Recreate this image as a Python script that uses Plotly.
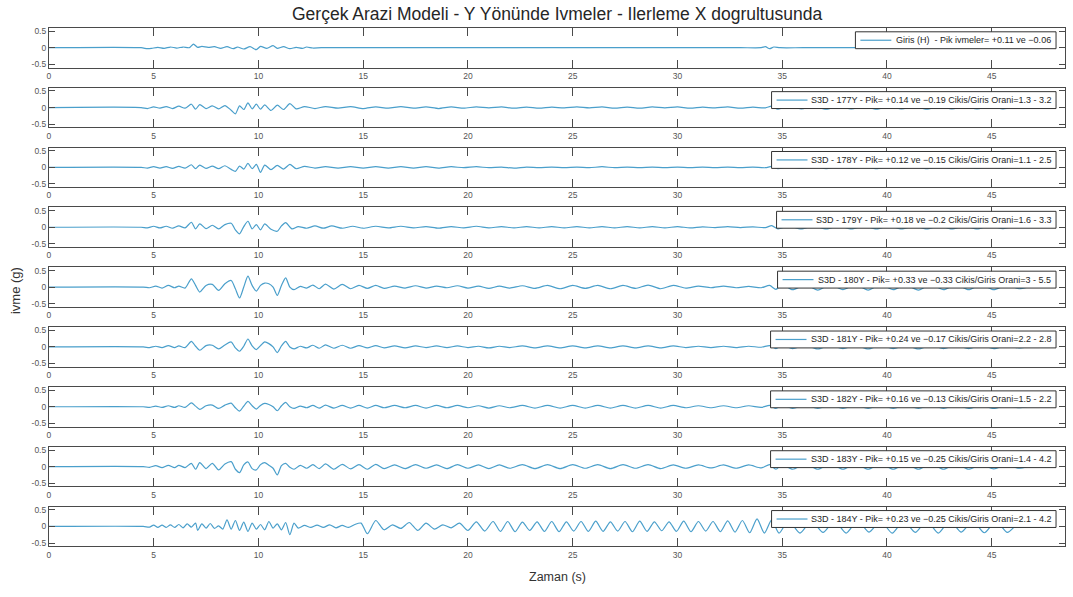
import plotly.graph_objects as go

# Acceleration records (time s, acceleration g) for the input motion and each station.
GIRIS_H = [(0, 0), (4.4, 0), (4.7, -0.03), (4.9, -0.02), (5.2, 0.01), (5.5, -0.02), (5.8, 0.02),
           (6.1, -0.01), (6.4, 0.02), (6.7, 0.0), (6.9, 0.11), (7.1, 0.01), (7.3, 0.04), (7.6, 0.01),
           (7.9, 0.03), (8.2, -0.02), (8.5, 0.03), (8.8, -0.03), (9.0, 0.02), (9.3, -0.04), (9.6, 0.03),
           (9.9, -0.06), (10.1, 0.04), (10.4, -0.02), (10.7, 0.06), (10.9, -0.02), (11.2, 0.03),
           (11.5, -0.03), (11.8, 0.01), (12.1, -0.02), (12.3, 0.02), (12.6, -0.01), (13.0, 0.0),
           (15.0, 0.0), (20.0, 0.0), (25.0, 0.0), (30.0, 0.0), (33.0, 0.0),
           (34.0, 0.0), (34.2, 0.03), (34.4, -0.03), (34.6, 0.02), (34.9, 0.0), (36.0, 0.0),
           (40.0, 0.0), (46.7, 0.0)]

S177Y = [(0, 0), (4.4, 0), (4.7, -0.03), (5.0, 0.02), (5.3, -0.02), (5.6, 0.03), (5.9, -0.03), (6.2, 0.04),
         (6.5, -0.02), (6.8, 0.1), (7.0, -0.05), (7.2, 0.09), (7.5, -0.03), (7.8, 0.05), (8.1, -0.04),
         (8.4, 0.06), (8.7, -0.08), (8.9, -0.19), (9.1, 0.05), (9.3, -0.06), (9.5, 0.14), (9.7, -0.04),
         (9.9, 0.1), (10.1, -0.05), (10.3, 0.08), (10.6, -0.09), (10.9, 0.07), (11.2, -0.06), (11.5, 0.12),
         (11.8, -0.04), (12.2, 0.03), (12.7, -0.03), (13.2, 0.03), (13.8, -0.02), (14.4, 0.03),
         (15.0, -0.03), (15.6, 0.02), (16.2, -0.02), (16.8, 0.03), (17.4, -0.02), (18.0, 0.02),
         (18.6, -0.03), (19.2, 0.02), (19.8, -0.02), (20.4, 0.02), (21.0, -0.01), (21.6, 0.02),
         (22.2, -0.02), (22.8, 0.01), (23.4, -0.02), (24.0, 0.01), (24.6, -0.01), (25.2, 0.02),
         (25.8, -0.01), (26.4, 0.02), (27.0, -0.02), (27.6, 0.01), (28.2, -0.02), (28.8, 0.02),
         (29.4, -0.01), (30.0, 0.02), (30.6, -0.02), (31.2, 0.01), (31.8, -0.01), (32.4, 0.02),
         (33.0, -0.02), (33.6, 0.01), (34.2, -0.01), (34.5, 0.04), (34.8, -0.05), (35.3, 0.04),
         (35.9, -0.04), (36.5, 0.03), (37.1, -0.05), (37.7, 0.03), (38.3, -0.04), (38.9, 0.03),
         (39.5, -0.05), (40.1, 0.03), (40.7, -0.04), (41.3, 0.03), (41.9, -0.05), (42.5, 0.03),
         (43.1, -0.04), (43.7, 0.03), (44.3, -0.04), (44.9, 0.03), (45.5, -0.04), (46.1, 0.02), (46.7, 0.0)]

S178Y = [(0, 0), (4.4, 0), (4.7, -0.02), (5.0, 0.02), (5.3, -0.02), (5.6, 0.02), (5.9, -0.03), (6.2, 0.03),
         (6.5, -0.02), (6.8, 0.08), (7.0, -0.04), (7.2, 0.07), (7.5, -0.03), (7.8, 0.04), (8.1, -0.04),
         (8.4, 0.05), (8.7, -0.06), (8.9, -0.12), (9.1, 0.04), (9.3, -0.05), (9.5, 0.12), (9.7, -0.04),
         (9.9, 0.09), (10.1, -0.15), (10.3, 0.07), (10.6, -0.07), (10.9, 0.06), (11.2, -0.05), (11.5, 0.09),
         (11.8, -0.04), (12.2, 0.03), (12.7, -0.02), (13.2, 0.02), (13.8, -0.02), (14.4, 0.02),
         (15.0, -0.02), (15.6, 0.02), (16.2, -0.02), (16.8, 0.02), (17.4, -0.02), (18.0, 0.02),
         (18.6, -0.02), (19.2, 0.02), (19.8, -0.01), (20.4, 0.02), (21.0, -0.01), (21.6, 0.01),
         (22.2, -0.02), (22.8, 0.01), (23.4, -0.01), (24.0, 0.01), (24.6, -0.01), (25.2, 0.01),
         (25.8, -0.01), (26.4, 0.02), (27.0, -0.01), (27.6, 0.01), (28.2, -0.01), (28.8, 0.01),
         (29.4, -0.01), (30.0, 0.01), (30.6, -0.01), (31.2, 0.01), (31.8, -0.01), (32.4, 0.01),
         (33.0, -0.01), (33.6, 0.01), (34.2, -0.01), (34.5, 0.03), (34.8, -0.04), (35.3, 0.03),
         (35.9, -0.03), (36.5, 0.03), (37.1, -0.04), (37.7, 0.03), (38.3, -0.03), (38.9, 0.02),
         (39.5, -0.04), (40.1, 0.03), (40.7, -0.03), (41.3, 0.02), (41.9, -0.04), (42.5, 0.03),
         (43.1, -0.03), (43.7, 0.02), (44.3, -0.03), (44.9, 0.02), (45.5, -0.03), (46.1, 0.02), (46.7, 0.0)]

S179Y = [(0, 0), (4.4, 0), (4.7, -0.02), (5.0, 0.03), (5.3, -0.02), (5.6, 0.03), (5.9, -0.03), (6.2, 0.04),
         (6.5, -0.02), (6.8, 0.15), (7.0, -0.05), (7.2, 0.1), (7.5, -0.04), (7.8, 0.06), (8.1, -0.05),
         (8.4, 0.08), (8.7, 0.12), (8.9, -0.08), (9.1, -0.2), (9.3, 0.02), (9.5, 0.18), (9.7, -0.05),
         (9.9, 0.08), (10.1, -0.08), (10.3, 0.1), (10.6, -0.06), (10.9, -0.12), (11.1, 0.04), (11.3, 0.14),
         (11.6, -0.05), (11.9, 0.02), (12.3, -0.03), (12.7, 0.04), (13.1, -0.03), (13.5, 0.04),
         (14.0, -0.03), (14.5, 0.03), (15.0, -0.03), (15.6, 0.03), (16.2, -0.02), (16.8, 0.03),
         (17.4, -0.02), (18.0, 0.02), (18.6, -0.03), (19.2, 0.02), (19.8, -0.02), (20.4, 0.03),
         (21.0, -0.02), (21.6, 0.02), (22.2, -0.02), (22.8, 0.02), (23.4, -0.02), (24.0, 0.02),
         (24.6, -0.02), (25.2, 0.02), (25.8, -0.02), (26.4, 0.02), (27.0, -0.02), (27.6, 0.02),
         (28.2, -0.02), (28.8, 0.02), (29.4, -0.02), (30.0, 0.02), (30.6, -0.02), (31.2, 0.01),
         (31.8, -0.01), (32.4, 0.02), (33.0, -0.01), (33.6, 0.01), (34.2, -0.01), (34.5, 0.05),
         (34.8, -0.05), (35.3, 0.04), (35.9, -0.05), (36.5, 0.04), (37.1, -0.05), (37.7, 0.04),
         (38.3, -0.05), (38.9, 0.04), (39.5, -0.05), (40.1, 0.04), (40.7, -0.05), (41.3, 0.04),
         (41.9, -0.05), (42.5, 0.04), (43.1, -0.05), (43.7, 0.04), (44.3, -0.05), (44.9, 0.04),
         (45.5, -0.04), (46.1, 0.03), (46.7, 0.0)]

S180Y = [(0, 0), (4.5, 0), (4.8, -0.02), (5.1, 0.03), (5.4, -0.03), (5.7, 0.05), (6.0, -0.02), (6.2, 0.03),
         (6.5, -0.03), (6.8, 0.25), (7.0, 0.05), (7.2, -0.15), (7.5, 0.05), (7.8, 0.08), (8.1, -0.1),
         (8.4, 0.1), (8.7, 0.2), (8.9, -0.05), (9.1, -0.33), (9.3, 0.0), (9.5, 0.33), (9.7, 0.05),
         (9.9, -0.12), (10.1, 0.05), (10.3, 0.12), (10.5, 0.1), (10.7, 0.0), (10.9, -0.25), (11.1, 0.05),
         (11.3, 0.28), (11.5, 0.0), (11.7, -0.08), (12.0, 0.02), (12.3, -0.03), (12.6, 0.06),
         (12.9, -0.05), (13.2, 0.09), (13.6, -0.06), (14.0, 0.08), (14.4, -0.05), (14.8, 0.05),
         (15.2, -0.04), (15.6, 0.05), (16.0, -0.04), (16.5, 0.03), (17.0, -0.03), (17.5, 0.04),
         (18.0, -0.03), (18.5, 0.03), (19.0, -0.02), (19.5, 0.04), (20.0, -0.03), (20.5, 0.03),
         (21.0, -0.04), (21.5, 0.03), (22.0, -0.03), (22.6, 0.04), (23.2, -0.04), (23.8, 0.05),
         (24.4, -0.05), (25.0, 0.05), (25.6, -0.04), (26.2, 0.05), (26.8, -0.05), (27.4, 0.05),
         (28.0, -0.04), (28.6, 0.06), (29.2, -0.05), (29.8, 0.05), (30.4, -0.03), (31.0, 0.03),
         (31.6, -0.02), (32.2, 0.03), (32.8, -0.02), (33.4, 0.02), (34.0, -0.02), (34.4, 0.05),
         (34.7, -0.07), (35.0, 0.08), (35.5, -0.08), (36.1, 0.08), (36.7, -0.09), (37.3, 0.08),
         (37.9, -0.08), (38.5, 0.08), (39.1, -0.09), (39.7, 0.08), (40.3, -0.08), (40.9, 0.07),
         (41.5, -0.09), (42.1, 0.08), (42.7, -0.08), (43.3, 0.07), (43.9, -0.08), (44.5, 0.07),
         (45.1, -0.08), (45.7, 0.06), (46.3, -0.05), (46.7, 0.0)]

S181Y = [(0, 0), (4.5, 0), (4.8, -0.02), (5.1, 0.02), (5.4, -0.02), (5.7, 0.04), (6.0, -0.02), (6.2, 0.03),
         (6.5, -0.02), (6.8, 0.17), (7.0, 0.02), (7.2, -0.1), (7.5, 0.04), (7.8, 0.05), (8.1, -0.06),
         (8.4, 0.06), (8.7, 0.15), (8.9, -0.03), (9.1, -0.13), (9.3, 0.02), (9.5, 0.24), (9.7, 0.03),
         (9.9, -0.08), (10.1, 0.04), (10.3, 0.15), (10.5, 0.1), (10.7, 0.0), (10.9, -0.17), (11.1, 0.03),
         (11.3, 0.17), (11.5, 0.0), (11.7, -0.06), (12.0, 0.02), (12.3, -0.03), (12.6, 0.05),
         (12.9, -0.04), (13.2, 0.06), (13.6, -0.04), (14.0, 0.05), (14.4, -0.04), (14.8, 0.04),
         (15.2, -0.03), (15.6, 0.04), (16.0, -0.03), (16.5, 0.03), (17.0, -0.03), (17.5, 0.03),
         (18.0, -0.02), (18.5, 0.03), (19.0, -0.02), (19.5, 0.03), (20.0, -0.02), (20.5, 0.02),
         (21.0, -0.03), (21.5, 0.02), (22.0, -0.02), (22.6, 0.03), (23.2, -0.03), (23.8, 0.03),
         (24.4, -0.03), (25.0, 0.03), (25.6, -0.03), (26.2, 0.03), (26.8, -0.03), (27.4, 0.03),
         (28.0, -0.03), (28.6, 0.03), (29.2, -0.03), (29.8, 0.03), (30.4, -0.02), (31.0, 0.02),
         (31.6, -0.02), (32.2, 0.02), (32.8, -0.02), (33.4, 0.02), (34.0, -0.01), (34.4, 0.04),
         (34.7, -0.05), (35.0, 0.05), (35.5, -0.05), (36.1, 0.05), (36.7, -0.06), (37.3, 0.05),
         (37.9, -0.05), (38.5, 0.05), (39.1, -0.06), (39.7, 0.05), (40.3, -0.05), (40.9, 0.05),
         (41.5, -0.06), (42.1, 0.05), (42.7, -0.05), (43.3, 0.05), (43.9, -0.05), (44.5, 0.05),
         (45.1, -0.05), (45.7, 0.04), (46.3, -0.03), (46.7, 0.0)]

S182Y = [(0, 0), (4.5, 0), (4.8, -0.02), (5.1, 0.02), (5.4, -0.02), (5.7, 0.03), (6.0, -0.02), (6.2, 0.03),
         (6.5, -0.02), (6.8, 0.12), (7.0, 0.02), (7.2, -0.08), (7.5, 0.03), (7.8, 0.05), (8.1, -0.05),
         (8.4, 0.05), (8.7, 0.11), (8.9, -0.03), (9.1, -0.13), (9.3, 0.02), (9.5, 0.16), (9.7, 0.03),
         (9.9, -0.07), (10.1, 0.04), (10.3, 0.1), (10.5, 0.07), (10.7, 0.0), (10.9, -0.12), (11.1, 0.03),
         (11.3, 0.13), (11.5, 0.0), (11.7, -0.05), (12.0, 0.02), (12.3, -0.03), (12.6, 0.04),
         (12.9, -0.04), (13.2, 0.05), (13.6, -0.04), (14.0, 0.04), (14.4, -0.04), (14.8, 0.04),
         (15.2, -0.04), (15.6, 0.04), (16.0, -0.03), (16.5, 0.04), (17.0, -0.03), (17.5, 0.04),
         (18.0, -0.04), (18.5, 0.04), (19.0, -0.03), (19.5, 0.04), (20.0, -0.03), (20.5, 0.03),
         (21.0, -0.04), (21.5, 0.03), (22.0, -0.03), (22.6, 0.04), (23.2, -0.04), (23.8, 0.04),
         (24.4, -0.04), (25.0, 0.04), (25.6, -0.04), (26.2, 0.04), (26.8, -0.04), (27.4, 0.04),
         (28.0, -0.04), (28.6, 0.04), (29.2, -0.04), (29.8, 0.04), (30.4, -0.03), (31.0, 0.03),
         (31.6, -0.03), (32.2, 0.03), (32.8, -0.03), (33.4, 0.03), (34.0, -0.02), (34.4, 0.04),
         (34.7, -0.05), (35.0, 0.05), (35.5, -0.05), (36.1, 0.05), (36.7, -0.05), (37.3, 0.05),
         (37.9, -0.05), (38.5, 0.05), (39.1, -0.05), (39.7, 0.05), (40.3, -0.05), (40.9, 0.05),
         (41.5, -0.05), (42.1, 0.05), (42.7, -0.05), (43.3, 0.05), (43.9, -0.05), (44.5, 0.04),
         (45.1, -0.05), (45.7, 0.04), (46.3, -0.03), (46.7, 0.0)]

S183Y = [(0, 0), (4.5, 0), (4.8, -0.02), (5.1, 0.03), (5.4, -0.03), (5.7, 0.04), (6.0, -0.03), (6.2, 0.04),
         (6.5, -0.03), (6.8, 0.1), (7.0, -0.08), (7.2, 0.12), (7.5, -0.06), (7.8, 0.1), (8.1, -0.1),
         (8.4, 0.08), (8.7, 0.15), (8.9, -0.08), (9.1, -0.18), (9.3, 0.05), (9.5, 0.14), (9.7, -0.06),
         (9.9, -0.1), (10.1, 0.06), (10.3, 0.12), (10.5, 0.04), (10.7, -0.05), (10.9, -0.25), (11.1, 0.03),
         (11.3, 0.1), (11.5, -0.02), (11.7, -0.08), (12.0, 0.04), (12.3, -0.05), (12.6, 0.06),
         (12.9, -0.06), (13.2, 0.08), (13.6, -0.08), (14.0, 0.07), (14.4, -0.07), (14.8, 0.06),
         (15.2, -0.08), (15.6, 0.07), (16.0, -0.06), (16.5, 0.05), (17.0, -0.06), (17.5, 0.06),
         (18.0, -0.05), (18.5, 0.05), (19.0, -0.06), (19.5, 0.06), (20.0, -0.05), (20.5, 0.05),
         (21.0, -0.06), (21.5, 0.05), (22.0, -0.05), (22.6, 0.06), (23.2, -0.06), (23.8, 0.06),
         (24.4, -0.06), (25.0, 0.06), (25.6, -0.05), (26.2, 0.06), (26.8, -0.06), (27.4, 0.06),
         (28.0, -0.05), (28.6, 0.06), (29.2, -0.06), (29.8, 0.05), (30.4, -0.05), (31.0, 0.05),
         (31.6, -0.04), (32.2, 0.05), (32.8, -0.05), (33.4, 0.05), (34.0, -0.04), (34.4, 0.06),
         (34.7, -0.08), (35.0, 0.07), (35.5, -0.08), (36.1, 0.07), (36.7, -0.08), (37.3, 0.07),
         (37.9, -0.08), (38.5, 0.07), (39.1, -0.08), (39.7, 0.07), (40.3, -0.08), (40.9, 0.07),
         (41.5, -0.08), (42.1, 0.07), (42.7, -0.08), (43.3, 0.07), (43.9, -0.08), (44.5, 0.06),
         (45.1, -0.07), (45.7, 0.06), (46.3, -0.05), (46.7, 0.0)]

S184Y = [(0, 0), (4.5, 0), (4.8, -0.02), (5.0, 0.04), (5.2, -0.03), (5.4, 0.04), (5.6, -0.03), (5.8, 0.05),
         (6.0, -0.03), (6.2, 0.06), (6.4, -0.04), (6.6, 0.08), (6.8, -0.02), (7.0, 0.1), (7.1, -0.12),
         (7.3, 0.08), (7.5, -0.05), (7.7, 0.09), (7.9, -0.06), (8.1, 0.02), (8.3, -0.08), (8.5, 0.2),
         (8.7, -0.08), (8.9, 0.18), (9.1, -0.12), (9.3, 0.13), (9.5, -0.15), (9.7, 0.1), (9.9, -0.08),
         (10.1, 0.06), (10.3, -0.1), (10.5, 0.15), (10.7, -0.05), (10.9, 0.08), (11.1, -0.1), (11.3, 0.12),
         (11.5, -0.25), (11.7, 0.1), (11.9, -0.05), (12.2, 0.03), (12.5, -0.03), (12.8, 0.04),
         (13.1, -0.03), (13.4, 0.05), (13.7, -0.04), (14.0, 0.03), (14.3, -0.03), (14.6, 0.06),
         (14.9, 0.1), (15.2, -0.22), (15.6, 0.18), (16.0, -0.1), (16.4, 0.05), (16.8, -0.06),
         (17.2, 0.12), (17.6, -0.12), (18.0, 0.1), (18.4, -0.08), (18.8, 0.05), (19.2, -0.04),
         (19.6, 0.1), (20.0, -0.12), (20.4, 0.14), (20.8, -0.14), (21.2, 0.15), (21.55, -0.15),
         (21.9, 0.15), (22.25, -0.16), (22.6, 0.13), (22.95, -0.12), (23.3, 0.14), (23.65, -0.15),
         (24.0, 0.15), (24.35, -0.16), (24.7, 0.14), (25.05, -0.14), (25.4, 0.15), (25.75, -0.15),
         (26.1, 0.16), (26.45, -0.15), (26.8, 0.14), (27.15, -0.14), (27.5, 0.15), (27.85, -0.16),
         (28.2, 0.16), (28.55, -0.15), (28.9, 0.14), (29.25, -0.13), (29.6, 0.14), (29.95, -0.15),
         (30.3, 0.16), (30.65, -0.16), (31.0, 0.15), (31.35, -0.14), (31.7, 0.15), (32.05, -0.16),
         (32.4, 0.17), (32.75, -0.17), (33.1, 0.18), (33.45, -0.19), (33.8, 0.23), (34.15, -0.2),
         (34.5, 0.2), (34.85, -0.2), (35.3, 0.18), (35.85, -0.2), (36.4, 0.17), (36.95, -0.18),
         (37.5, 0.17), (38.05, -0.2), (38.6, 0.18), (39.15, -0.17), (39.7, 0.17), (40.25, -0.2),
         (40.8, 0.18), (41.35, -0.18), (41.9, 0.17), (42.45, -0.2), (43.0, 0.18), (43.55, -0.17),
         (44.1, 0.17), (44.65, -0.19), (45.2, 0.17), (45.75, -0.18), (46.3, 0.1), (46.7, 0.0)]

SERIES = [GIRIS_H, S177Y, S178Y, S179Y, S180Y, S181Y, S182Y, S183Y, S184Y]
LABELS = [
    "Giris (H)\u00a0\u00a0- Pik ivmeler= +0.11 ve \u22120.06",
    "S3D - 177Y - Pik= +0.14 ve \u22120.19 Cikis/Giris Orani=1.3 - 3.2",
    "S3D - 178Y - Pik= +0.12 ve \u22120.15 Cikis/Giris Orani=1.1 - 2.5",
    "S3D - 179Y - Pik= +0.18 ve \u22120.2 Cikis/Giris Orani=1.6 - 3.3",
    "S3D - 180Y - Pik= +0.33 ve \u22120.33 Cikis/Giris Orani=3 - 5.5",
    "S3D - 181Y - Pik= +0.24 ve \u22120.17 Cikis/Giris Orani=2.2 - 2.8",
    "S3D - 182Y - Pik= +0.16 ve \u22120.13 Cikis/Giris Orani=1.5 - 2.2",
    "S3D - 183Y - Pik= +0.15 ve \u22120.25 Cikis/Giris Orani=1.4 - 4.2",
    "S3D - 184Y - Pik= +0.23 ve \u22120.25 Cikis/Giris Orani=2.1 - 4.2",
]
X_TICKS = [0, 5, 10, 15, 20, 25, 30, 35, 40, 45]
Y_TICKS = [-0.5, 0, 0.5]
Y_TICK_TEXT = ["-0.5", "0", "0.5"]

# page geometry (px)
W, H = 1073, 597
LEFT, RIGHT = 47, 1065
TOP0, PITCH, PANEL_H = 26, 60.25, 40
LEG_RIGHT = 1056
LEG_LEFT = [855, 771, 771, 776, 777, 770, 770, 770, 771]
LEG_DY, LEG_H = 4, 17

FONT = "Liberation Sans, Arial, sans-serif"
LINE_COLOR = "#4a9fcb"
AXIS_COLOR = "#4a4a4a"
TICK_FONT = dict(family=FONT, size=8.5, color="#555555")


def fx(px):
    return px / W


def fy(px):
    return 1 - px / H


fig = go.Figure()
layout = {}
shapes = []
annotations = []
for i, (pts, label) in enumerate(zip(SERIES, LABELS)):
    n = i + 1
    xa = "x" if n == 1 else f"x{n}"
    ya = "y" if n == 1 else f"y{n}"
    t = [p[0] for p in pts]
    a = [p[1] for p in pts]
    fig.add_trace(go.Scatter(x=t, y=a, mode="lines", name=label, xaxis=xa, yaxis=ya,
                             showlegend=False, hoverinfo="skip",
                             line=dict(color=LINE_COLOR, width=1.2, shape="spline", smoothing=0.7)))
    top = TOP0 + PITCH * i
    bot = top + PANEL_H
    layout[f"xaxis{'' if n == 1 else n}"] = dict(
        domain=[fx(LEFT), fx(RIGHT)], anchor=ya, range=[0, 48.5], tickvals=X_TICKS,
        ticks="inside", ticklen=8, tickwidth=1, tickcolor=AXIS_COLOR, mirror="ticks",
        showline=True, linecolor=AXIS_COLOR, linewidth=1, showgrid=False, zeroline=False,
        tickfont=TICK_FONT, fixedrange=True)
    layout[f"yaxis{'' if n == 1 else n}"] = dict(
        domain=[fy(bot), fy(top)], anchor=xa, range=[-0.6, 0.6], tickvals=Y_TICKS,
        ticktext=Y_TICK_TEXT, ticks="inside", ticklen=6, tickwidth=1, tickcolor=AXIS_COLOR,
        mirror="ticks", showline=True, linecolor=AXIS_COLOR, linewidth=1, showgrid=False,
        zeroline=False, tickfont=TICK_FONT, fixedrange=True)

    # legend box for this panel
    l_top = top + LEG_DY
    l_bot = l_top + LEG_H
    l_mid = (l_top + l_bot) / 2
    l_left = LEG_LEFT[i]
    shapes.append(dict(type="rect", xref="paper", yref="paper", layer="above",
                       x0=fx(l_left), x1=fx(LEG_RIGHT), y0=fy(l_bot), y1=fy(l_top),
                       fillcolor="white", line=dict(color="#333333", width=1)))
    shapes.append(dict(type="line", xref="paper", yref="paper", layer="above",
                       x0=fx(l_left + 5), x1=fx(l_left + 36), y0=fy(l_mid), y1=fy(l_mid),
                       line=dict(color=LINE_COLOR, width=1.2)))
    annotations.append(dict(text=label, xref="paper", yref="paper", showarrow=False,
                            x=fx(LEG_RIGHT - 3), y=fy(l_mid), xanchor="right", yanchor="middle",
                            font=dict(family=FONT, size=9, color="#262626")))

annotations += [
    dict(text="Gerçek Arazi Modeli - Y Yönünde Ivmeler - Ilerleme X dogrultusunda",
         x=fx((LEFT + RIGHT) / 2), y=fy(12), xref="paper", yref="paper", showarrow=False,
         xanchor="center", yanchor="middle", font=dict(family=FONT, size=17.5, color="#262626")),
    dict(text="ivme (g)", x=fx(13), y=fy(290), xref="paper", yref="paper", showarrow=False,
         textangle=-90, xanchor="center", yanchor="middle",
         font=dict(family=FONT, size=13, color="#333333")),
    dict(text="Zaman (s)", x=fx(557), y=fy(579), xref="paper", yref="paper", showarrow=False,
         xanchor="center", yanchor="middle", font=dict(family=FONT, size=12.5, color="#333333")),
]

fig.update_layout(width=W, height=H, margin=dict(l=0, r=0, t=0, b=0),
                  paper_bgcolor="white", plot_bgcolor="white",
                  shapes=shapes, annotations=annotations, **layout)

fig.write_html("out.html")
